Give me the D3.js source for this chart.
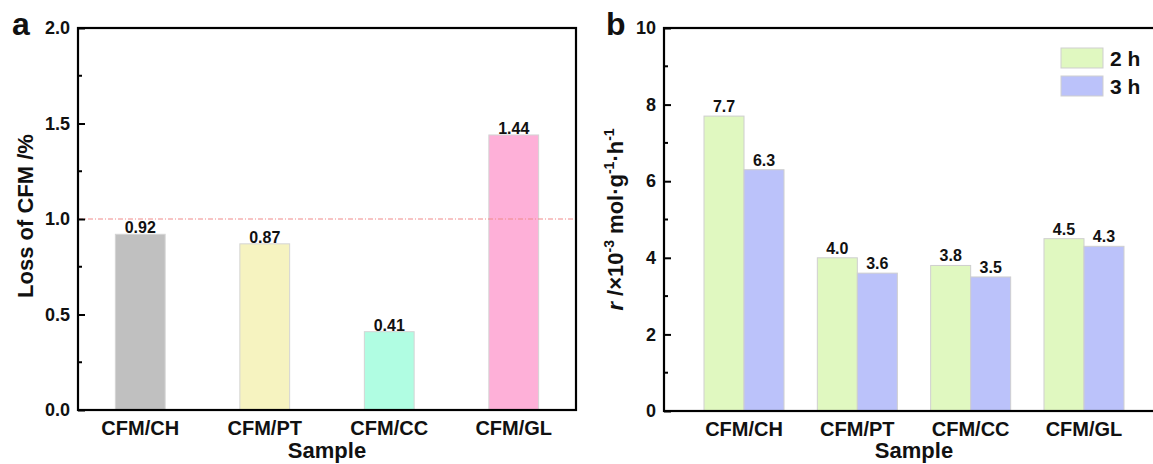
<html>
  <head>
    <meta charset="utf-8">
    <script src="https://d3js.org/d3.v7.min.js"></script>
    <style>
      body {
        margin: 0;
        background: white;
        font-family: "Liberation Sans", Arial, Helvetica, sans-serif;
      }
      svg { display: block; }
      text { font-weight: bold; fill: #111; }
    </style>
  </head>
  <body>
    <div id="chart"></div>
  </body>
  <script>
    // data
    const samples = ["CFM/CH", "CFM/PT", "CFM/CC", "CFM/GL"]
    const lossValues = [0.92, 0.87, 0.41, 1.44]
    const lossLabels = ["0.92", "0.87", "0.41", "1.44"]
    const lossColors = ["#c0c0c0", "#f6f3c0", "#b0fde2", "#feb0d8"]
    const lossLimit = 1.0
    const seriesNames = ["2 h", "3 h"]
    const rate2h = [7.7, 4.0, 3.8, 4.5]
    const rate3h = [6.3, 3.6, 3.5, 4.3]
    const seriesColors = ["#e0f8c0", "#bbc2fa"]

    const W = 1153, H = 464

    const svg = d3.select("#chart")
      .append("svg")
        .attr("width", W)
        .attr("height", H)

    // draws a boxed axis frame with inward ticks on the left
    function frame(g, x0, x1, y, majorStep, minorStep, fmt) {
      const [d0, d1] = y.domain()
      const yAxis = d3.axisLeft(y)
        .tickValues(d3.range(d0, d1 + 1e-9, majorStep))
        .tickFormat(fmt)
        .tickSizeInner(0)
        .tickSizeOuter(0)
        .tickPadding(8)
      const ga = g.append("g")
        .attr("transform", `translate(${x0},0)`)
        .call(yAxis)
      ga.attr("font-size", null).attr("font-family", null)
      ga.select(".domain").remove()
      ga.selectAll(".tick line")
        .attr("x2", 7)
        .attr("stroke", "#000").attr("stroke-width", 2)
      ga.selectAll(".tick text")
        .style("font-size", "18px")
        .style("font-weight", "bold")
        .attr("fill", "#111")
      // minor ticks
      g.selectAll(null)
        .data(d3.range(d0 + minorStep, d1, majorStep))
        .join("line")
          .attr("x1", x0).attr("x2", x0 + 4)
          .attr("y1", d => y(d)).attr("y2", d => y(d))
          .attr("stroke", "#000").attr("stroke-width", 2)
      g.append("rect")
        .attr("x", x0).attr("y", y(d1))
        .attr("width", x1 - x0).attr("height", y(d0) - y(d1))
        .attr("fill", "none").attr("stroke", "#000").attr("stroke-width", 2.2)
    }

    function categoryLabels(g, x, bottom) {
      g.selectAll(null)
        .data(samples)
        .join("text")
          .attr("x", d => x(d) + x.bandwidth() / 2)
          .attr("y", bottom + 25)
          .attr("text-anchor", "middle")
          .attr("font-size", 20)
          .text(d => d)
    }

    // ---------- panel a ----------
    const aL = 78, aR = 576, aT = 28, aB = 410
    const ga = svg.append("g")
    const xa = d3.scaleBand().domain(samples).range([aL, aR]).paddingInner(0.6).paddingOuter(0.3)
    const ya = d3.scaleLinear().domain([0, 2]).range([aB, aT])

    ga.selectAll("rect.bar")
      .data(lossValues)
      .join("rect")
        .attr("class", "bar")
        .attr("x", (d, i) => xa(samples[i]))
        .attr("y", d => ya(d))
        .attr("width", xa.bandwidth())
        .attr("height", d => ya(0) - ya(d))
        .attr("fill", (d, i) => lossColors[i])
        .attr("stroke", "#d4d4d4")
        .attr("stroke-width", 1)

    ga.append("line")
      .attr("x1", aL).attr("x2", aR)
      .attr("y1", ya(lossLimit)).attr("y2", ya(lossLimit))
      .attr("stroke", "#f08a8a")
      .attr("stroke-width", 1)
      .attr("stroke-dasharray", "5,2,1,2")

    ga.selectAll("text.val")
      .data(lossValues)
      .join("text")
        .attr("class", "val")
        .attr("x", (d, i) => xa(samples[i]) + xa.bandwidth() / 2)
        .attr("y", d => ya(d) - 1)
        .attr("text-anchor", "middle")
        .attr("font-size", 16)
        .text((d, i) => lossLabels[i])

    frame(ga, aL, aR, ya, 0.5, 0.25, d3.format(".1f"))
    categoryLabels(ga, xa, aB)

    ga.append("text")
      .attr("x", (aL + aR) / 2).attr("y", 458)
      .attr("text-anchor", "middle").attr("font-size", 22)
      .text("Sample")
    ga.append("text")
      .attr("transform", `translate(33,${(aT + aB) / 2 - 3}) rotate(-90)`)
      .attr("text-anchor", "middle").attr("font-size", 22)
      .text("Loss of CFM /%")
    ga.append("text")
      .attr("x", 12).attr("y", 35)
      .attr("font-size", 32)
      .text("a")

    // ---------- panel b ----------
    const bL = 664, bR = 1164, bT = 28, bB = 411
    const gb = svg.append("g")
    const xb = d3.scaleBand().domain(samples).range([bL, bR]).paddingInner(0.294).paddingOuter(0.353)
    const xs = d3.scaleBand().domain(seriesNames).range([0, xb.bandwidth()])
    const yb = d3.scaleLinear().domain([0, 10]).range([bB, bT])

    const rows = samples.map((s, i) => ({sample: s, values: [rate2h[i], rate3h[i]]}))

    const grp = gb.selectAll("g.grp")
      .data(rows)
      .join("g")
        .attr("class", "grp")
        .attr("transform", d => `translate(${xb(d.sample)},0)`)

    grp.selectAll("rect")
      .data(d => d.values.map((v, j) => ({v, j})))
      .join("rect")
        .attr("x", d => xs(seriesNames[d.j]))
        .attr("y", d => yb(d.v))
        .attr("width", xs.bandwidth())
        .attr("height", d => yb(0) - yb(d.v))
        .attr("fill", d => seriesColors[d.j])
        .attr("stroke", "#cfcfcf")
        .attr("stroke-width", 1)

    grp.selectAll("text")
      .data(d => d.values.map((v, j) => ({v, j})))
      .join("text")
        .attr("x", d => xs(seriesNames[d.j]) + xs.bandwidth() / 2)
        .attr("y", d => yb(d.v) - 4)
        .attr("text-anchor", "middle")
        .attr("font-size", 16)
        .text(d => d3.format(".1f")(d.v))

    frame(gb, bL, bR, yb, 2, 1, d3.format("d"))
    categoryLabels(gb, xb, bB)

    gb.append("text")
      .attr("x", xb(samples[0]) + (xb(samples[3]) + xb.bandwidth() - xb(samples[0])) / 2)
      .attr("y", 458)
      .attr("text-anchor", "middle").attr("font-size", 22)
      .text("Sample")

    const yt = gb.append("text")
      .attr("transform", `translate(623,${(bT + bB) / 2}) rotate(-90)`)
      .attr("text-anchor", "middle").attr("font-size", 22)
    yt.append("tspan").attr("font-style", "italic").text("r")
    yt.append("tspan").text(" /×10")
    yt.append("tspan").attr("dy", -9).attr("font-size", 14).text("-3")
    yt.append("tspan").attr("dy", 9).text(" mol·g")
    yt.append("tspan").attr("dy", -9).attr("font-size", 14).text("-1")
    yt.append("tspan").attr("dy", 9).text("·h")
    yt.append("tspan").attr("dy", -9).attr("font-size", 14).text("-1")

    gb.append("text")
      .attr("x", 606).attr("y", 35)
      .attr("font-size", 32)
      .text("b")

    // legend
    const lg = gb.append("g")
    lg.selectAll("rect")
      .data(seriesNames)
      .join("rect")
        .attr("x", 1061).attr("y", (d, i) => 48 + i * 28)
        .attr("width", 42).attr("height", 20)
        .attr("fill", (d, i) => seriesColors[i])
        .attr("stroke", "#cfcfcf")
    lg.selectAll("text")
      .data(seriesNames)
      .join("text")
        .attr("x", 1110).attr("y", (d, i) => 66 + i * 28)
        .attr("font-size", 21)
        .text(d => d)
  </script>
</html>
